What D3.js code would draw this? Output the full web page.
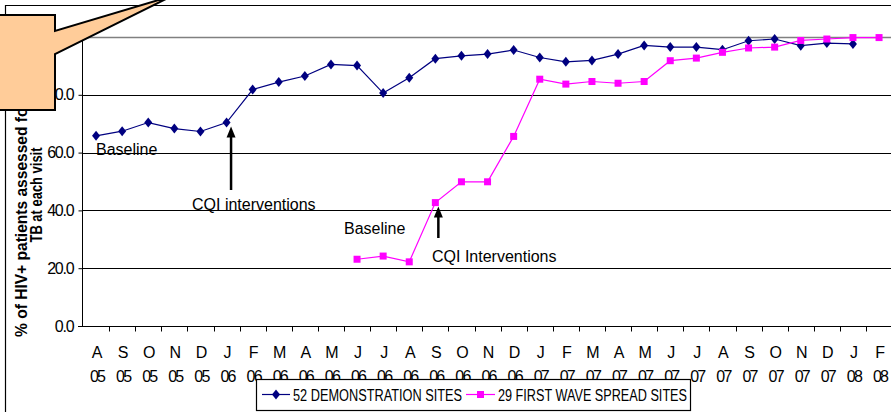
<!DOCTYPE html>
<html>
<head>
<meta charset="utf-8">
<script src="https://cdn.jsdelivr.net/npm/d3@7"></script>
<style>
  body { margin: 0; background: #fff; }
  svg { display: block; font-family: "Liberation Sans", Arial, sans-serif; }
</style>
</head>
<body>
<div id="chart"></div>
<script>
// data
var months = ["A","S","O","N","D","J","F","M","A","M","J","J","A","S","O","N","D",
              "J","F","M","A","M","J","J","A","S","O","N","D","J","F"];
var years  = ["05","05","05","05","05","06","06","06","06","06","06","06","06","06","06","06","06",
              "07","07","07","07","07","07","07","07","07","07","07","07","08","08"];
var demoSites = [65.8, 67.4, 70.4, 68.3, 67.3, 70.4, 81.8, 84.4, 86.5, 90.5,
                 90.1, 80.6, 85.9, 92.5, 93.5, 94.1, 95.5, 92.9, 91.4, 91.9,
                 94.1, 97.1, 96.5, 96.5, 95.6, 98.7, 99.3, 97.0, 97.9, 97.6];
var spreadSites = [null, null, null, null, null, null, null, null, null, null,
                   23.1, 24.2, 22.2, 42.7, 49.9, 49.9, 65.6, 85.4, 83.7, 84.6,
                   84.0, 84.6, 91.8, 92.7, 94.7, 96.2, 96.5, 98.8, 99.3, 99.8, 99.8];
var yTicks = [0, 20, 40, 60, 80, 100];
var seriesNames = ["52 DEMONSTRATION SITES", "29 FIRST WAVE SPREAD SITES"];

var svgWidth = 891, svgHeight = 412;
var plot = { left: 83, top: 37, bottom: 326 };
var bandW = 26.1;

var svg = d3.select("#chart").append("svg")
  .attr("width", svgWidth)
  .attr("height", svgHeight);

var x = d3.scaleBand()
  .domain(d3.range(months.length))
  .range([plot.left, plot.left + bandW * months.length])
  .padding(0);
var xc = function (i) { return x(i) + x.bandwidth() / 2; };

var y = d3.scaleLinear().domain([0, 100]).range([plot.bottom, plot.top]);

// outer chart frame
svg.append("path")
  .attr("d", "M5.5," + svgHeight + "V5.5H" + svgWidth)
  .attr("fill", "none").attr("stroke", "#000").attr("stroke-width", 1.2);

// gridlines
svg.append("g").selectAll("line")
  .data(yTicks.filter(function (t) { return t > 0; }))
  .enter().append("line")
  .attr("x1", plot.left).attr("x2", svgWidth)
  .attr("y1", function (d) { return Math.round(y(d)) + 0.5; })
  .attr("y2", function (d) { return Math.round(y(d)) + 0.5; })
  .attr("stroke", function (d) { return d === 100 ? "#808080" : "#000"; })
  .attr("stroke-width", function (d) { return d === 100 ? 1.5 : 1; });

// y axis
var leftAxis = d3.axisLeft(y).tickValues(yTicks).tickSize(4).tickPadding(5)
  .tickFormat(d3.format(".1f"));
var yAxisG = svg.append("g")
  .attr("transform", "translate(" + (plot.left - 0.5) + ",0)")
  .call(leftAxis);
yAxisG.select(".domain").attr("d", "M0," + plot.top + "V" + plot.bottom);
yAxisG.selectAll("text")
  .attr("font-size", 16).attr("letter-spacing", -1.2)
  .attr("font-family", "Liberation Sans, Arial, sans-serif");

// x axis
var bottomAxis = d3.axisBottom(x).tickSize(0).tickFormat("");
var xAxisG = svg.append("g")
  .attr("transform", "translate(0," + (plot.bottom + 0.5) + ")")
  .call(bottomAxis);
xAxisG.select(".domain").attr("d", "M" + (plot.left - 5) + ",0H" + svgWidth);
xAxisG.selectAll(".bound")
  .data(d3.range(1, months.length + 1))
  .enter().append("line").attr("class", "bound")
  .attr("x1", function (i) { return Math.round(x(i - 1) + bandW) + 0.5; })
  .attr("x2", function (i) { return Math.round(x(i - 1) + bandW) + 0.5; })
  .attr("y1", 0).attr("y2", 5)
  .attr("stroke", "#000");

var xLab = svg.append("g").attr("font-size", 16).attr("text-anchor", "middle");
xLab.selectAll(".m").data(months).enter().append("text").attr("class", "m")
  .attr("x", function (d, i) { return xc(i) + 1; })
  .attr("y", 358)
  .text(function (d) { return d; });
xLab.selectAll(".yr").data(years).enter().append("text").attr("class", "yr")
  .attr("x", function (d, i) { return xc(i) + 1; })
  .attr("y", 382)
  .attr("letter-spacing", -1.8)
  .text(function (d) { return d; });

// series
var diamond = "M0,-5L4,0L0,5L-4,0Z";
var line = d3.line()
  .defined(function (d) { return d != null; })
  .x(function (d, i) { return xc(i); })
  .y(function (d) { return y(d); });

svg.append("path").datum(demoSites)
  .attr("d", line).attr("fill", "none")
  .attr("stroke", "#000080").attr("stroke-width", 1.2);
svg.append("path").datum(spreadSites)
  .attr("d", line).attr("fill", "none")
  .attr("stroke", "#FF00FF").attr("stroke-width", 1.2);

svg.append("g").selectAll("path")
  .data(demoSites).enter().append("path")
  .attr("d", diamond)
  .attr("transform", function (d, i) { return "translate(" + xc(i) + "," + y(d) + ")"; })
  .attr("fill", "#000080");

svg.append("g").selectAll("rect")
  .data(spreadSites.map(function (v, i) { return { v: v, i: i }; })
    .filter(function (d) { return d.v != null; }))
  .enter().append("rect")
  .attr("x", function (d) { return xc(d.i) - 3.5; })
  .attr("y", function (d) { return y(d.v) - 3.5; })
  .attr("width", 7).attr("height", 7)
  .attr("fill", "#FF00FF");

// annotations
var ann = svg.append("g").attr("font-size", 16).attr("fill", "#000");
ann.append("text").attr("x", 96).attr("y", 155).text("Baseline");
ann.append("text").attr("x", 192).attr("y", 210).text("CQI interventions");
ann.append("text").attr("x", 344).attr("y", 234).text("Baseline");
ann.append("text").attr("x", 432).attr("y", 262).text("CQI Interventions");

function arrow(ax, yTip, yTail) {
  svg.append("line")
    .attr("x1", ax).attr("x2", ax).attr("y1", yTail).attr("y2", yTip + 8)
    .attr("stroke", "#000").attr("stroke-width", 2.5);
  svg.append("path")
    .attr("d", "M" + ax + "," + yTip + "L" + (ax + 4.5) + "," + (yTip + 11) +
      "L" + (ax - 4.5) + "," + (yTip + 11) + "Z")
    .attr("fill", "#000");
}
arrow(xc(5) + 4.5, y(demoSites[5]) + 4, 190);
arrow(xc(13) + 3, y(spreadSites[13]) + 4, 238);

// y axis title
var yTitle = svg.append("text")
  .attr("transform", "translate(27,195) rotate(-90)")
  .attr("text-anchor", "middle")
  .attr("font-size", 16).attr("font-weight", "bold");
yTitle.append("tspan").attr("x", 0).attr("y", 0)
  .attr("textLength", 284).attr("lengthAdjust", "spacingAndGlyphs")
  .text("% of HIV+ patients assessed for active");
yTitle.append("tspan").attr("x", 0).attr("y", 15)
  .attr("textLength", 95).attr("lengthAdjust", "spacingAndGlyphs")
  .text("TB at each visit");

// legend
var legend = svg.append("g");
legend.append("rect")
  .attr("x", 256.5).attr("y", 379.5).attr("width", 434).attr("height", 31)
  .attr("fill", "#fff").attr("stroke", "#000").attr("stroke-width", 1.2);
legend.append("line").attr("x1", 262).attr("x2", 290).attr("y1", 394.5).attr("y2", 394.5)
  .attr("stroke", "#000080").attr("stroke-width", 1.2);
legend.append("path").attr("d", diamond).attr("transform", "translate(276,394.5)")
  .attr("fill", "#000080");
legend.append("text").attr("x", 293).attr("y", 400.5)
  .attr("font-size", 16).attr("textLength", 169).attr("lengthAdjust", "spacingAndGlyphs")
  .text(seriesNames[0]);
legend.append("line").attr("x1", 466).attr("x2", 495).attr("y1", 394.5).attr("y2", 394.5)
  .attr("stroke", "#FF00FF").attr("stroke-width", 1.2);
legend.append("rect").attr("x", 477).attr("y", 391).attr("width", 7).attr("height", 7)
  .attr("fill", "#FF00FF");
legend.append("text").attr("x", 498).attr("y", 400.5)
  .attr("font-size", 16).attr("textLength", 189).attr("lengthAdjust", "spacingAndGlyphs")
  .text(seriesNames[1]);

// callout box
svg.append("path")
  .attr("d", "M-2,15H55V31L172,-4L55,54V110H-2Z")
  .attr("fill", "#FFCC99").attr("stroke", "#000").attr("stroke-width", 2)
  .attr("stroke-linejoin", "miter");
</script>
</body>
</html>
